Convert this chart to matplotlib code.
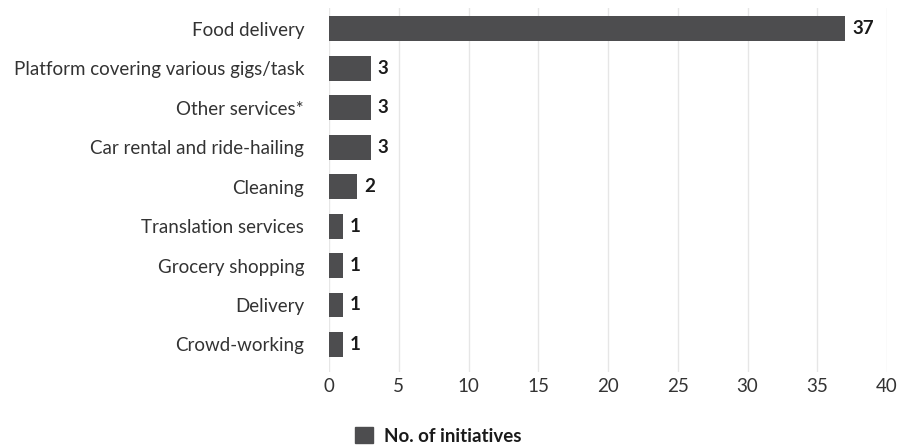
import matplotlib
matplotlib.use("Agg")
import matplotlib.pyplot as plt
from matplotlib.patches import Patch

categories = ["Crowd-working", "Delivery", "Grocery shopping", "Translation services",
              "Cleaning", "Car rental and ride-hailing", "Other services*",
              "Platform covering various gigs/task", "Food delivery"]
values = [1, 1, 1, 1, 2, 3, 3, 3, 37]
xticks = [0, 5, 10, 15, 20, 25, 30, 35, 40]
legend_label = "No. of initiatives"

plt.rcParams['font.family'] = ['Lato', 'DejaVu Sans']

bar_color = "#4d4d4f"
W, H = 902, 446
fig = plt.figure(figsize=(W / 100, H / 100), dpi=100)
ax = fig.add_axes([329 / W, 1 - 372 / H, (887 - 329) / W, (372 - 8) / H])

ypos = list(range(len(categories)))
ax.barh(ypos, values, height=0.63, color=bar_color, zorder=3)
ax.set_xlim(0, 40)
ax.set_ylim(-0.7, 8.53)
ax.set_xticks(xticks)
ax.set_xticklabels([str(t) for t in xticks])
ax.set_yticks(ypos)
ax.set_yticklabels(categories)
ax.tick_params(axis='both', length=0, labelsize=13.5, colors="#333333")
ax.tick_params(axis='y', pad=18)
ax.tick_params(axis='x', pad=4)
for s in ax.spines.values():
    s.set_visible(False)
ax.grid(axis='x', color="#e6e6e6", linewidth=1, zorder=0)
ax.set_axisbelow(True)

for y, v in zip(ypos, values):
    ax.annotate(str(v), (v, y), xytext=(5, 0), textcoords='offset points',
                va='center', ha='left', fontsize=13.5, fontweight='bold', color="#1a1a1a")

fig.legend(handles=[Patch(color=bar_color, label=legend_label)],
           loc='center left', bbox_to_anchor=(355 / W, 1 - 436 / H),
           frameon=False, prop={'weight': 'bold', 'size': 13.5},
           handlelength=0.95, handleheight=0.9, handletextpad=0.6,
           borderpad=0, borderaxespad=0, labelcolor="#1a1a1a")

fig.savefig("out.png", dpi=100)
